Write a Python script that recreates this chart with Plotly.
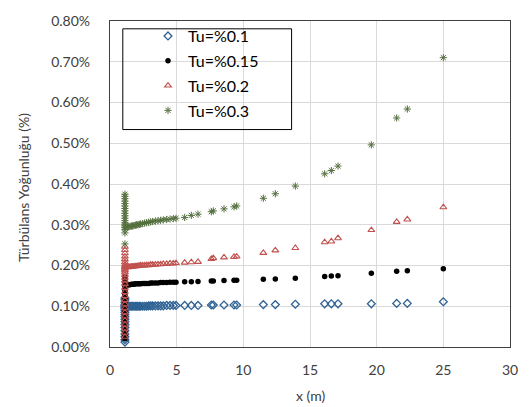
import plotly.graph_objects as go

# ---- data ----
wall_x = 1.12
stream_x = [1.3, 1.4, 1.5, 1.6, 1.7, 1.8, 1.9, 2.0, 2.1, 2.2, 2.3, 2.45, 2.6, 2.75, 2.9,
            3.05, 3.2, 3.4, 3.6, 3.8, 4.0, 4.25, 4.5, 4.75, 4.95,
            5.6, 6.1, 6.6, 7.6, 7.75, 8.55, 9.3, 9.5,
            11.5, 12.4, 13.9, 16.1, 16.6, 17.1, 19.6, 21.5, 22.3, 25.0]

names = ["Tu=%0.1", "Tu=%0.15", "Tu=%0.2", "Tu=%0.3"]

col_01 = [0.00012, 0.00018, 0.00025, 0.00032, 0.0004, 0.00048, 0.00055, 0.00062, 0.00068,
          0.00074, 0.0008, 0.00085, 0.0009, 0.00094, 0.00097, 0.001, 0.00102, 0.00105,
          0.0011, 0.00116, 0.0012]
col_015 = [0.0002, 0.00028, 0.00036, 0.00045, 0.00054, 0.00063, 0.00072, 0.0008, 0.00088,
           0.00096, 0.00104, 0.00112, 0.0012, 0.00127, 0.00133, 0.00138, 0.00143, 0.00147,
           0.0015, 0.00153, 0.00158, 0.00165, 0.00172]
col_02 = [0.00025, 0.00035, 0.00045, 0.00055, 0.00065, 0.00075, 0.00085, 0.00095, 0.00105,
          0.00115, 0.00125, 0.00135, 0.00145, 0.00155, 0.00163, 0.0017, 0.00177, 0.00183,
          0.00188, 0.00192, 0.00195, 0.00198, 0.00202, 0.00208, 0.00215, 0.00222, 0.0023,
          0.00238, 0.00246]
col_03 = [0.00253, 0.0028, 0.00288, 0.00293, 0.00297, 0.003, 0.00305, 0.0031, 0.00316,
          0.00322, 0.00328, 0.00334, 0.0034, 0.00346, 0.00352, 0.00358, 0.00364, 0.0037,
          0.00375]

tu_01 = [0.00099, 0.001, 0.001, 0.001, 0.001, 0.001, 0.001, 0.001, 0.001, 0.001, 0.001,
         0.001, 0.001, 0.001, 0.00101, 0.00101, 0.00101, 0.00101, 0.00101, 0.00101, 0.00101,
         0.00102, 0.00102, 0.00102, 0.00102,
         0.00102, 0.00102, 0.00102, 0.00103, 0.00103, 0.00103, 0.00103, 0.00103,
         0.00104, 0.00104, 0.00105, 0.00106, 0.00106, 0.00106, 0.00106, 0.00107, 0.00107,
         0.00111]
tu_015 = [0.00152, 0.00153, 0.00153, 0.00154, 0.00154, 0.00154, 0.00155, 0.00155, 0.00155,
          0.00155, 0.00155, 0.00156, 0.00156, 0.00156, 0.00156, 0.00157, 0.00157, 0.00157,
          0.00157, 0.00158, 0.00158, 0.00158, 0.00159, 0.00159, 0.00159,
          0.0016, 0.0016, 0.00161, 0.00162, 0.00162, 0.00163, 0.00164, 0.00164,
          0.00166, 0.00167, 0.00169, 0.00173, 0.00174, 0.00175, 0.00181, 0.00186, 0.00187,
          0.00192]
tu_02 = [0.00196, 0.00196, 0.00197, 0.00197, 0.00197, 0.00198, 0.00198, 0.00198, 0.00199,
         0.00199, 0.002, 0.002, 0.002, 0.00201, 0.00201, 0.00202, 0.00202, 0.00202, 0.00203,
         0.00203, 0.00204, 0.00204, 0.00205, 0.00205, 0.00206,
         0.00207, 0.00208, 0.00209, 0.00216, 0.00218, 0.0022, 0.00221, 0.00222,
         0.00231, 0.00237, 0.00243, 0.00257, 0.00259, 0.00267, 0.00287, 0.00307, 0.00313,
         0.00343]
tu_03 = [0.00294, 0.00295, 0.00296, 0.00297, 0.00297, 0.00298, 0.00299, 0.003, 0.003,
         0.00301, 0.00302, 0.00303, 0.00304, 0.00305, 0.00306, 0.00307, 0.00308, 0.00309,
         0.0031, 0.00311, 0.00312, 0.00313, 0.00314, 0.00315, 0.00316,
         0.00318, 0.00323, 0.00326, 0.00332, 0.00334, 0.00339, 0.00344, 0.00346,
         0.00365, 0.00376, 0.00395, 0.00425, 0.00433, 0.00444, 0.00496, 0.00562, 0.00584,
         0.0071]

x_ticks = [0, 5, 10, 15, 20, 25, 30]
y_ticks = [0, 0.001, 0.002, 0.003, 0.004, 0.005, 0.006, 0.007, 0.008]

FONT = "Lato, Carlito, 'Open Sans', sans-serif"

styles = [
    dict(symbol="diamond-open", size=6, color="#2F6294", line=dict(width=1.3, color="#2F6294")),
    dict(symbol="circle", size=5.5, color="#000000", line=dict(width=0)),
    dict(symbol="triangle-up-open", size=6, color="#C0504D", line=dict(width=1.1, color="#C0504D")),
    dict(symbol="asterisk-open", size=6, color="#55703F", line=dict(width=1, color="#55703F")),
]
cols = [col_01, col_015, col_02, col_03]
vals = [tu_01, tu_015, tu_02, tu_03]

fig = go.Figure()
for i, (nm, c, v, st) in enumerate(zip(names, cols, vals, styles)):
    xs = [wall_x] * len(c) + stream_x
    ys = c + v
    fig.add_trace(go.Scatter(x=xs, y=ys, mode="markers", name=nm, marker=st,
                             legendgroup=f"g{i}"))

fig.update_layout(
    width=530, height=407,
    margin=dict(l=110, r=17, t=14, b=60),
    paper_bgcolor="white", plot_bgcolor="white",
    font=dict(family=FONT, size=14, color="#404040"),
    showlegend=True,
    legend=dict(x=0.095, y=1.006, xanchor="left", yanchor="top",
                bgcolor="rgba(0,0,0,0)", borderwidth=0,
                font=dict(family=FONT, size=16, color="#000000"),
                tracegroupgap=1, itemwidth=30),
    shapes=[dict(type="rect", xref="paper", yref="paper",
                 x0=0.032, x1=0.454, y0=0.667, y1=0.976,
                 line=dict(color="#000000", width=1), fillcolor="rgba(0,0,0,0)")],
    annotations=[
        dict(text="x (m)", xref="paper", yref="paper", x=0.5, y=-0.15,
             xanchor="center", yanchor="middle", showarrow=False,
             font=dict(family=FONT, size=14, color="#404040")),
        dict(text="Türbülans Yoğunluğu (%)", xref="paper", yref="paper",
             x=-0.218, y=0.49, xanchor="center", yanchor="middle", textangle=-90,
             showarrow=False, font=dict(family=FONT, size=14, color="#404040")),
    ],
)
fig.update_xaxes(range=[0, 30], tickvals=x_ticks, showgrid=True, gridcolor="#D9D9D9",
                 gridwidth=1, zeroline=False, showline=True, linecolor="#404040",
                 linewidth=1.3, mirror=True, ticks="", ticklabelstandoff=10,
                 tickfont=dict(family=FONT, size=14, color="#404040"))
fig.update_yaxes(range=[0, 0.008], tickvals=y_ticks, tickformat=".2%", showgrid=True,
                 gridcolor="#D9D9D9", gridwidth=1, zeroline=False, showline=True,
                 linecolor="#404040", linewidth=1.3, mirror=True, ticks="",
                 ticklabelstandoff=16,
                 tickfont=dict(family=FONT, size=14, color="#404040"))

fig.write_html("out.html")
